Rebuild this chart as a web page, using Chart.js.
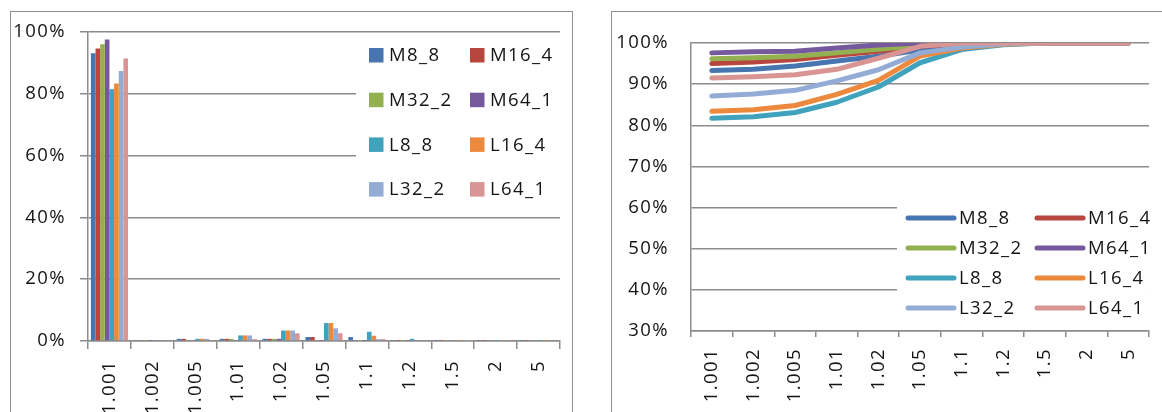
<!DOCTYPE html>
<html>
<head>
<meta charset="utf-8">
<script src="https://cdn.jsdelivr.net/npm/chart.js@4/dist/chart.umd.min.js"></script>
<style>
  html, body { margin: 0; padding: 0; background: #fff; }
  body { width: 1162px; height: 412px; position: relative; overflow: hidden; }
  .frame { position: absolute; border: 1.5px solid #8f8f8f; box-sizing: border-box; }
  #frameLeft { left: 10px; top: 11px; width: 563px; height: 440px; }
  #frameRight { left: 611px; top: 11px; width: 600px; height: 440px; }
  .holder { position: absolute; top: 0; height: 412px; }
  #holderLeft { left: 0; width: 590px; }
  #holderRight { left: 590px; width: 572px; }
</style>
</head>
<body>
<div class="frame" id="frameLeft"></div>
<div class="frame" id="frameRight"></div>
<div class="holder" id="holderLeft"><canvas id="shareChart"></canvas></div>
<div class="holder" id="holderRight"><canvas id="cumChart"></canvas></div>
<script>
// Error-ratio buckets on the x axis
const categories = ['1.001', '1.002', '1.005', '1.01', '1.02', '1.05', '1.1', '1.2', '1.5', '2', '5'];
const seriesNames = ['M8_8', 'M16_4', 'M32_2', 'M64_1', 'L8_8', 'L16_4', 'L32_2', 'L64_1'];
const seriesColors = ['#4775B0', '#B7463F', '#93B151', '#76599C', '#40A2BD', '#EC893C', '#93ACD6', '#D99594'];

// Share of cases per bucket (%)
const shareM8_8  = [93.1, 0.2, 0.7, 0.7, 0.7, 1.3, 1.3, 0.2, 0.1, 0.1, 0.1];
const shareM16_4 = [94.7, 0.2, 0.7, 0.7, 0.7, 1.3, 0.2, 0.1, 0.1, 0.1, 0.1];
const shareM32_2 = [96.0, 0.1, 0.2, 0.7, 0.7, 0.2, 0.1, 0.1, 0.1, 0.0, 0.0];
const shareM64_1 = [97.6, 0.1, 0.2, 0.3, 0.7, 0.1, 0.1, 0.1, 0.0, 0.0, 0.0];
const shareL8_8  = [81.5, 0.2, 0.7, 1.8, 3.4, 5.8, 3.0, 0.7, 0.2, 0.1, 0.1];
const shareL16_4 = [83.3, 0.2, 0.7, 1.8, 3.4, 5.8, 1.7, 0.3, 0.1, 0.1, 0.1];
const shareL32_2 = [87.4, 0.2, 0.7, 1.8, 3.4, 4.1, 0.6, 0.2, 0.1, 0.1, 0.0];
const shareL64_1 = [91.4, 0.2, 0.3, 0.6, 2.5, 2.5, 0.6, 0.2, 0.1, 0.0, 0.0];

// Cumulative share up to each bucket (%)
const cumM8_8  = [93.3, 93.6, 94.4, 95.6, 96.8, 98.3, 99.5, 99.9, 100, 100, 100];
const cumM16_4 = [95.0, 95.4, 96.0, 97.0, 98.0, 99.2, 99.8, 100, 100, 100, 100];
const cumM32_2 = [96.2, 96.4, 96.8, 97.6, 98.5, 99.4, 99.9, 100, 100, 100, 100];
const cumM64_1 = [97.6, 97.9, 98.0, 98.8, 99.5, 100, 100, 100, 100, 100, 100];
const cumL8_8  = [81.7, 82.1, 83.1, 85.6, 89.3, 95.2, 98.4, 99.6, 100, 100, 100];
const cumL16_4 = [83.4, 83.8, 84.8, 87.5, 90.9, 96.8, 98.8, 99.7, 100, 100, 100];
const cumL32_2 = [87.1, 87.6, 88.5, 90.8, 93.5, 97.6, 99.0, 99.8, 100, 100, 100];
const cumL64_1 = [91.5, 91.8, 92.3, 93.6, 96.3, 99.2, 100, 100, 100, 100, 100];

const shareSeries = [shareM8_8, shareM16_4, shareM32_2, shareM64_1, shareL8_8, shareL16_4, shareL32_2, shareL64_1];
const cumSeries = [cumM8_8, cumM16_4, cumM32_2, cumM64_1, cumL8_8, cumL16_4, cumL32_2, cumL64_1];

const AXIS_GREY = '#8c8c8c';
const TEXT = '#141414';
const FONT = { family: '"Open Sans", "Noto Sans", sans-serif', size: 18.5 };
const FONT_CSS = '18.5px "Open Sans", "Noto Sans", sans-serif';
const SPACING = '1.4px';

// Slightly widened lettering for every text drawn on the canvas
const letterSpacing = {
  id: 'letterSpacing',
  beforeLayout(chart) { chart.ctx.letterSpacing = SPACING; },
  beforeDraw(chart) { chart.ctx.letterSpacing = SPACING; }
};

// Two-column legend with filled squares, sitting inside the plot area
const squareLegend = {
  id: 'squareLegend',
  afterDraw(chart) {
    const { ctx, chartArea: a } = chart;
    ctx.save();
    ctx.letterSpacing = SPACING;
    ctx.fillStyle = '#fff';
    ctx.fillRect(a.right - 204, a.top + 1.5, 204, 182);
    ctx.font = FONT_CSS;
    ctx.textBaseline = 'middle';
    ctx.textAlign = 'left';
    chart.data.datasets.forEach((ds, i) => {
      const col = i % 2, row = Math.floor(i / 2);
      const x = a.right - 191 + col * 101;
      const y = a.top + 23 + row * 44.7;
      ctx.fillStyle = ds.backgroundColor;
      ctx.fillRect(x, y - 7, 14.5, 14.5);
      ctx.fillStyle = TEXT;
      ctx.fillText(ds.label, x + 20, y + 1);
    });
    ctx.restore();
  }
};

// Two-column legend with thick line swatches, lower right of the plot area
const lineLegend = {
  id: 'lineLegend',
  afterDraw(chart) {
    const { ctx, chartArea: a } = chart;
    ctx.save();
    ctx.letterSpacing = SPACING;
    ctx.fillStyle = '#fff';
    ctx.fillRect(a.left + 206, 194, a.right - a.left - 206, 128);
    ctx.font = FONT_CSS;
    ctx.textBaseline = 'middle';
    ctx.textAlign = 'left';
    ctx.lineCap = 'round';
    ctx.lineWidth = 5;
    chart.data.datasets.forEach((ds, i) => {
      const col = i % 2, row = Math.floor(i / 2);
      const x = a.left + 217 + col * 129;
      const y = 218 + row * 30;
      ctx.strokeStyle = ds.borderColor;
      ctx.beginPath();
      ctx.moveTo(x, y);
      ctx.lineTo(x + 46, y);
      ctx.stroke();
      ctx.fillStyle = TEXT;
      ctx.fillText(ds.label, x + 51, y + 1);
    });
    ctx.restore();
  }
};

const pct = v => v + '%';

// Left: share of cases per bucket
new Chart(document.getElementById('shareChart'), {
  type: 'bar',
  data: {
    labels: categories,
    datasets: seriesNames.map((name, i) => ({
      label: name,
      data: shareSeries[i],
      backgroundColor: seriesColors[i],
      borderWidth: 0
    }))
  },
  options: {
    responsive: true,
    maintainAspectRatio: false,
    animation: false,
    devicePixelRatio: 1,
    layout: { padding: { left: 0, top: 32, right: 30, bottom: 0 } },
    datasets: { bar: { categoryPercentage: 0.865, barPercentage: 1 } },
    plugins: { legend: { display: false }, tooltip: { enabled: false } },
    scales: {
      x: {
        grid: { drawOnChartArea: false, offset: true, tickLength: 8, color: AXIS_GREY, lineWidth: 1.5 },
        border: { color: AXIS_GREY, width: 1.5 },
        ticks: { minRotation: 90, maxRotation: 90, autoSkip: false, padding: 11, color: TEXT, font: FONT },
        afterFit(scale) { scale.height = 71; }
      },
      y: {
        min: 0, max: 100,
        grid: { color: AXIS_GREY, lineWidth: 1.5, tickLength: 8 },
        border: { color: AXIS_GREY, width: 1.5 },
        ticks: { stepSize: 20, callback: pct, padding: 14, color: TEXT, font: FONT },
        afterFit(scale) { scale.width = 88; }
      }
    }
  },
  plugins: [letterSpacing, squareLegend]
});

// Right: cumulative share up to each bucket
new Chart(document.getElementById('cumChart'), {
  type: 'line',
  data: {
    labels: categories,
    datasets: seriesNames.map((name, i) => ({
      label: name,
      data: cumSeries[i],
      borderColor: seriesColors[i],
      backgroundColor: seriesColors[i],
      borderWidth: 5,
      borderCapStyle: 'round',
      borderJoinStyle: 'round',
      pointRadius: 0,
      tension: 0,
      order: seriesNames.length - i
    }))
  },
  options: {
    responsive: true,
    maintainAspectRatio: false,
    animation: false,
    devicePixelRatio: 1,
    layout: { padding: { left: 0, top: 43, right: 12, bottom: 0 } },
    plugins: { legend: { display: false }, tooltip: { enabled: false } },
    scales: {
      x: {
        offset: true,
        grid: { drawOnChartArea: false, offset: true, tickLength: 6, color: AXIS_GREY, lineWidth: 1.5 },
        border: { color: AXIS_GREY, width: 1.5 },
        ticks: { minRotation: 90, maxRotation: 90, autoSkip: false, padding: 11, color: TEXT, font: FONT },
        afterFit(scale) { scale.height = 81; }
      },
      y: {
        min: 30, max: 100,
        grid: { color: AXIS_GREY, lineWidth: 1.5, drawTicks: false },
        border: { color: AXIS_GREY, width: 1.5 },
        ticks: { stepSize: 10, callback: pct, padding: 22, color: TEXT, font: FONT },
        afterFit(scale) { scale.width = 101; }
      }
    }
  },
  plugins: [letterSpacing, lineLegend]
});
</script>
</body>
</html>
